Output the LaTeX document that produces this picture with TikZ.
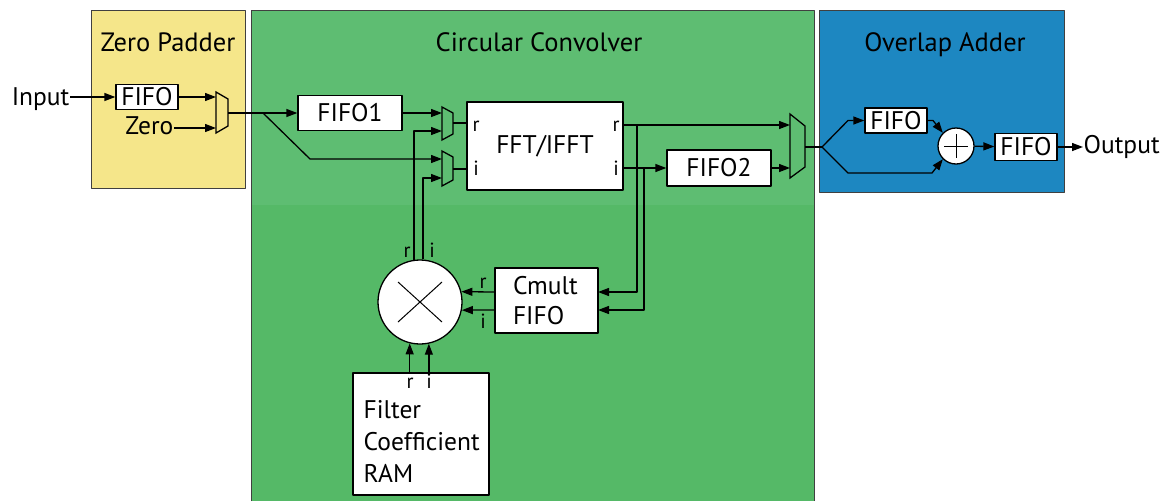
\documentclass[tikz,border=0pt]{standalone}
\usepackage{fontspec}
\setmainfont{PT Sans}
\usetikzlibrary{arrows.meta}
\definecolor{padyellow}{HTML}{F5E68A}
\definecolor{convgreen}{HTML}{55B967}
\definecolor{convgreenlt}{HTML}{5EBD72}
\definecolor{addblue}{HTML}{1D87C1}
\tikzset{
  blk/.style={draw,fill=white,inner sep=0pt},
  sig/.style={font=\fontsize{20.5}{22}\selectfont,inner sep=0pt,anchor=base},
  ttl/.style={inner sep=0pt,anchor=base},
  hdr/.style={inner sep=0pt,anchor=base,font=\fontsize{26.5}{30}\selectfont},
  area/.style={draw=black!75,line width=1pt},
  mux/.style={draw,line join=miter}
}
\begin{document}
\begin{tikzpicture}[x=1pt,y=-1pt,font=\fontsize{25.5}{30}\selectfont,line width=1.3pt,line join=round,>={Triangle[length=11pt,width=8pt]}]
\useasboundingbox (0,0) rectangle (1173,501);
% areas
\fill[padyellow] (91,10) rectangle (245,188);
\draw[area] (91,10) rectangle (245,188);
\fill[convgreen] (251,10) rectangle (814,501);
\fill[convgreenlt] (251,10) rectangle (814,205);
\draw[area] (251,501) -- (251,10) -- (814,10) -- (814,501);
\fill[addblue] (819,10) rectangle (1064,192);
\draw[area] (819,10) rectangle (1064,192);
\node[hdr] (tpad) at (168,51) {Zero Padder};
\node[hdr] (tconv) at (539,51) {Circular Convolver};
\node[hdr] (tadd) at (945,51) {Overlap Adder};

% zero padder
\node[ttl,anchor=base east] (inp) at (70,105) {Input};
\node[blk,minimum width=62pt,minimum height=25pt] (zfifo) at (147,97) {FIFO};
\node[ttl,anchor=base east] (zero) at (174,134) {Zero};
\draw[mux] (216,92) -- (228,99) -- (228,126) -- (216,133) -- cycle;
\coordinate (m0a) at (216,97);
\coordinate (m0b) at (216,128);
\coordinate (m0o) at (228,113);
\draw[->] (inp.east |- zfifo) -- (zfifo);
\draw[->] (zfifo) -- (m0a);
\draw[->] (zero.east |- m0b) -- (m0b);

% circular convolver
\node[blk,minimum width=104pt,minimum height=35pt] (fifo1) at (350,113) {FIFO1};
\node[blk,minimum width=156pt,minimum height=88pt] (fft) at (545,146) {FFT/IFFT};
\node[blk,minimum width=104pt,minimum height=36pt] (fifo2) at (719,168) {FIFO2};
\node[blk,minimum width=103pt,minimum height=65pt,text width=67pt,inner xsep=18pt,align=left,font=\fontsize{25.5}{30}\selectfont] (cmult) at (546.5,300.5) {Cmult\\FIFO};
\node[blk,circle,minimum size=84pt] (mult) at (420,302) {};
\draw[line width=1pt] (mult.center) +(-22,-20) -- +(22,20) (mult.center) +(-22,20) -- +(22,-20);
\node[blk,minimum width=136pt,minimum height=122pt] (ram) at (421,434) {};
\node[inner sep=0pt,anchor=north west,align=left,font=\fontsize{25.5}{32}\selectfont] (ramtext) at (363,400) {Filter\\Coefficient\\RAM};

\draw[mux] (442,107) -- (453,113) -- (453,134) -- (442,140) -- cycle;
\draw[mux] (442,151) -- (453,157) -- (453,180) -- (442,186) -- cycle;
\draw[mux] (790,114) -- (805,126) -- (805,167) -- (790,178) -- cycle;
\coordinate (m1a) at (442,113);
\coordinate (m1b) at (442,131);
\coordinate (m1o) at (453,123);
\coordinate (m2a) at (442,159);
\coordinate (m2b) at (442,178);
\coordinate (m2o) at (453,169);
\coordinate (m3a) at (790,125);
\coordinate (m3b) at (790,168);
\coordinate (m3o) at (805,147);
\coordinate (split1) at (263,113);
\coordinate (bend1) at (310,159);
\coordinate (br) at (637,125);
\coordinate (bi) at (644,168);
\coordinate (cmr) at (598,292);
\coordinate (cmi) at (598,310);

\draw (m0o) -- (split1);
\draw[->] (split1) -- (fifo1);
\draw[->] (split1) -- (bend1) -- (m2a);
\draw[->] (fifo1) -- (m1a);
\draw (m1o) -- (m1o -| fft.west);
\draw (m2o) -- (m2o -| fft.west);
\draw[->] (fft.east |- m3a) -- (m3a);
\draw[->] (fft.east |- fifo2) -- (fifo2);
\draw[->] (fifo2) -- (m3b);
\draw[->] (br) |- (cmr);
\draw[->] (bi) |- (cmi);
\draw[->] (cmult.west |- cmr) -- (mult.14);
\draw[->] (cmult.west |- cmi) -- (mult.349);
\draw[->] (mult.98) |- (m1b);
\draw[->] (mult.86) |- (m2b);
\draw[->] (ram.north -| mult.256) -- (mult.256);
\draw[->] (ram.north -| mult.282) -- (mult.282);

\node[sig] (fri) at (476,131) {r};
\node[sig] (fii) at (476,175) {i};
\node[sig] (fro) at (616,131) {r};
\node[sig] (fio) at (616,175) {i};
\node[sig] (mro) at (407,257) {r};
\node[sig] (mio) at (432,257) {i};
\node[sig] (cro) at (483,288) {r};
\node[sig] (cio) at (483,328) {i};
\node[sig] (rro) at (410,388) {r};
\node[sig] (rio) at (429,388) {i};

% overlap adder
\node[blk,minimum width=62pt,minimum height=25pt] (fifoa) at (896,120.5) {FIFO};
\node[blk,circle,minimum size=36pt] (add) at (956,146) {};
\draw[line width=1pt] (add.center) +(-12,0) -- +(12,0) (add.center) +(0,-12) -- +(0,12);
\node[blk,minimum width=62pt,minimum height=27pt] (fifob) at (1026,147) {FIFO};
\node[ttl,anchor=base west] (outp) at (1083,153) {Output};
\coordinate (split2) at (822,147);
\coordinate (up) at (848,120.5);
\coordinate (dn) at (848,173);
\coordinate (dn2) at (932,173);
\coordinate (up2) at (933,120.5);
\draw (m3o) -- (split2);
\draw[->] (split2) -- (up) -- (fifoa);
\draw[->] (split2) -- (dn) -- (dn2) -- (add.225);
\draw[->] (fifoa) -- (up2) -- (add.135);
\draw[->] (add) -- (fifob);
\draw[->] (fifob) -- (outp.west |- fifob);
\end{tikzpicture}
\end{document}
